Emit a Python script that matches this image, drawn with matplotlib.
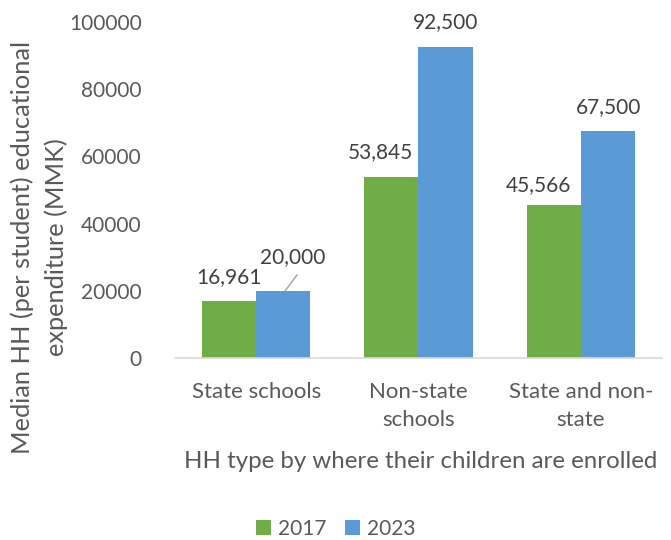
import matplotlib
matplotlib.use("Agg")
import matplotlib.pyplot as plt
import numpy as np

plt.rcParams['font.family'] = ['Lato', 'DejaVu Sans']

categories = ["State schools", "Non-state\nschools", "State and non-\nstate"]
series_names = ["2017", "2023"]
values_2017 = [16961, 53845, 45566]
values_2023 = [20000, 92500, 67500]
y_ticks = [0, 20000, 40000, 60000, 80000, 100000]

colors = ["#70AD47", "#5B9BD5"]
text_color = "#595959"
label_color = "#404040"

W, H = 671, 540
fig = plt.figure(figsize=(W / 100, H / 100), dpi=100)
ax = fig.add_axes([175 / W, 1 - 358 / H, (662 - 175) / W, (358 - 22) / H])

x = np.arange(len(categories))
width = 0.333
bars_a = ax.bar(x - width / 2, values_2017, width, color=colors[0], label=series_names[0])
bars_b = ax.bar(x + width / 2, values_2023, width, color=colors[1], label=series_names[1])

ax.set_xlim(-0.5, len(categories) - 0.5)
ax.set_ylim(0, 100000)
ax.set_yticks(y_ticks)
ax.set_yticklabels([str(v) for v in y_ticks])
ax.set_xticks(x)
ax.set_xticklabels(categories, linespacing=1.5)
ax.tick_params(axis='both', length=0, colors=text_color)
ax.tick_params(axis='y', pad=24, labelsize=15)
ax.tick_params(axis='x', pad=17.5, labelsize=16)
for s in ["top", "right", "left"]:
    ax.spines[s].set_visible(False)
ax.spines["bottom"].set_color("#D9D9D9")
ax.spines["bottom"].set_linewidth(1.2)

# data labels (pixel offsets from the top centre of each bar)
px = 72 / 100
offsets_a = [(0, 24), (-11, 25), (-15, 20)]
offsets_b = [(9, 34), (0, 25), (1, 24)]
for bars, vals, offs in ((bars_a, values_2017, offsets_a), (bars_b, values_2023, offsets_b)):
    for b, v, (dx, dy) in zip(bars, vals, offs):
        ax.annotate(f"{v:,}", (b.get_x() + b.get_width() / 2, v),
                    xytext=(dx * px, dy * px), textcoords="offset points",
                    ha="center", va="center", fontsize=15, color=label_color)

# leader line for the displaced label
b = bars_b[0]
ax.annotate("", xy=(b.get_x() + b.get_width() / 2 + 0.012, values_2023[0]),
            xytext=(12 * px, 16 * px), textcoords="offset points",
            arrowprops=dict(arrowstyle="-", color="#A6A6A6", lw=1.1,
                            shrinkA=0, shrinkB=0))

fig.text(22 / W, 1 - 247 / H, "Median HH (per student) educational",
         rotation=90, ha="center", va="center", fontsize=18.3, color=text_color)
fig.text(56 / W, 1 - 247 / H, "expenditure (MMK)",
         rotation=90, ha="center", va="center", fontsize=18.3, color=text_color)
fig.text(421 / W, 1 - 461 / H, "HH type by where their children are enrolled",
         ha="center", va="center", fontsize=17.3, color=text_color)

fig.legend(loc="center", bbox_to_anchor=(336 / W, 1 - 529 / H), ncol=2,
           frameon=False, fontsize=15, labelcolor=text_color,
           handlelength=0.7, handleheight=0.7, handletextpad=0.35,
           columnspacing=0.9)

fig.savefig("out.png", dpi=100)
